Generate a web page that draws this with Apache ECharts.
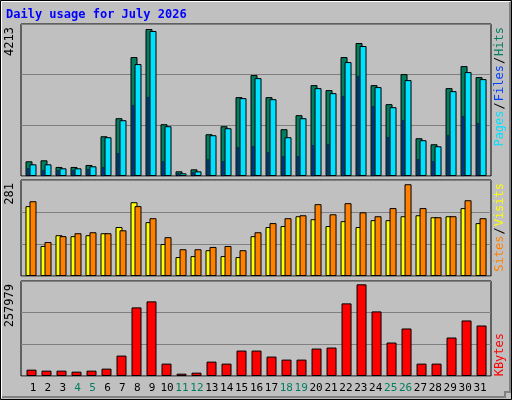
<!DOCTYPE html>
<html><head><meta charset="utf-8">
<script src="https://cdn.jsdelivr.net/npm/echarts@6/dist/echarts.min.js"></script>
<style>html,body{margin:0;padding:0;background:#c0c0c0}#c{width:512px;height:400px}</style>
</head><body><div id="c"></div>
<script>
const days = Array.from({length:31},(_,i)=>String(i+1));
const weekendDays = ['4','5','11','12','18','19','25','26'];
const hits  = [421,450,259,259,316,1139,1656,3409,4213,1484,134,191,1197,1427,2260,2892,2260,1341,1743,2604,2461,3409,3811,2604,2059,2920,1082,910,2518,3150,2834];
const files = [335,335,220,220,278,1111,1599,3208,4156,1427,77,134,1168,1369,2231,2805,2202,1111,1656,2518,2375,3265,3725,2547,1972,2748,1025,852,2432,2978,2777];
const pages = [220,163,163,163,191,249,651,2030,2260,421,77,105,479,421,823,852,680,565,565,881,910,2288,2863,2001,1111,1599,479,421,1168,1714,1513];
const sites = [214,92,125,122,125,131,150,226,165,98,58,61,79,61,58,122,150,153,183,174,153,168,150,171,171,183,186,180,183,208,162];
const visits= [229,104,122,131,134,131,140,214,177,119,82,82,89,92,79,134,162,177,186,220,189,223,195,183,208,281,208,180,183,232,177];
const kbytes= [17889,15064,15064,12240,15064,20713,57432,193008,209955,34836,6591,9415,40485,34836,71555,71555,54607,46134,46134,77204,80028,204306,257979,181710,94150,133693,34836,34836,108273,156289,142167];
const maxLabels = ['4213','281','257979'];

const panels=[{top:24,h:152,max:4356},{top:180,h:96,max:294},{top:281,h:95,max:267300}];
const grids=panels.map(p=>({left:21,width:470,top:p.top,height:p.h,show:true,borderColor:'#000',borderWidth:1,backgroundColor:'#c0c0c0'}));
grids.push({left:25.5,width:462,top:378,height:1,show:false});
const xAxes=[];const yAxes=[];const series=[];
function xa(grid,shift){xAxes.push({type:'value',gridIndex:grid,min:0.3+shift,max:31.63+shift,show:false,splitLine:{show:false}});return xAxes.length-1;}
panels.forEach((p,i)=>yAxes.push({type:'value',gridIndex:i,min:0,max:p.max,interval:p.max/3,axisLine:{show:false},axisTick:{show:false},axisLabel:{show:false},splitLine:{lineStyle:{color:'#808080',width:1}}}));
yAxes.push({type:'value',gridIndex:3,show:false});
function bar(data,grid,shift,color,w,border){
  series.push({type:'bar',xAxisIndex:xa(grid,shift),yAxisIndex:grid,barWidth:w,data:data.map((v,i)=>[i+1,v]),
    itemStyle:{color:color,borderColor:'#000',borderWidth:border},silent:true,animation:false});
}
bar(hits,0,0.1667,'#008060',7,1);
bar(files,0,-0.1,'#00e0ff',7,1);
bar(pages,0,0.233,'#0040ff',2,0.5);
bar(sites,1,0.1667,'#ffff00',7,1);
bar(visits,1,-0.1,'#ff8000',7,1);
bar(kbytes,2,0,'#ff0000',10,1);
xAxes.push({type:'category',gridIndex:3,data:days,axisLine:{show:false},axisTick:{show:false},
  axisLabel:{interval:0,margin:4,fontFamily:'DejaVu Sans Mono',fontSize:11,
   color:(v)=>weekendDays.includes(v)?'#008060':'#000'}});
series.push({type:'bar',xAxisIndex:xAxes.length-1,yAxisIndex:3,data:[],silent:true});

const rot=Math.PI/2, mono='DejaVu Sans Mono';
const g=[
 {type:'rect',shape:{x:0.5,y:0.5,width:511,height:399},style:{fill:'none',stroke:'#000'}},
 {type:'polyline',shape:{points:[[1.5,398],[1.5,1.5],[510,1.5]]},style:{stroke:'#fff',fill:'none'}},
 {type:'polyline',shape:{points:[[2,397],[505,397],[505,392],[510,392],[510,2]]},style:{stroke:'#808080',fill:'none',lineWidth:2}},
 {type:'text',x:6,y:9,style:{text:'Daily usage for July 2026',font:'bold 12px '+mono,fill:'#0000ff'}},
 {type:'text',x:10,y:27,rotation:rot,style:{text:maxLabels[0],font:'12px '+mono,fill:'#000',align:'right',verticalAlign:'middle'}},
 {type:'text',x:10,y:183,rotation:rot,style:{text:maxLabels[1],font:'12px '+mono,fill:'#000',align:'right',verticalAlign:'middle'}},
 {type:'text',x:10,y:284,rotation:rot,style:{text:maxLabels[2],font:'12px '+mono,fill:'#000',align:'right',verticalAlign:'middle'}},
 {type:'text',x:500,y:27,rotation:rot,style:{text:'{p|Pages}{s|/}{f|Files}{s|/}{h|Hits}',font:'12px '+mono,align:'right',verticalAlign:'middle',
   rich:{p:{fill:'#00e0ff',font:'12px '+mono},s:{fill:'#000',font:'12px '+mono,padding:[0,1]},f:{fill:'#0040ff',font:'12px '+mono},h:{fill:'#008060',font:'12px '+mono}}}},
 {type:'text',x:500,y:183,rotation:rot,style:{text:'{a|Sites}{s|/}{b|Visits}',font:'12px '+mono,align:'right',verticalAlign:'middle',
   rich:{a:{fill:'#ff8000',font:'12px '+mono},s:{fill:'#000',font:'12px '+mono,padding:[0,1]},b:{fill:'#ffff00',font:'12px '+mono}}}},
 {type:'text',x:500,y:333,rotation:rot,style:{text:'KBytes',font:'12px '+mono,fill:'#ff0000',align:'right',verticalAlign:'middle'}}
];
const chart=echarts.init(document.getElementById('c'));
chart.setOption({backgroundColor:'#c0c0c0',animation:false,grid:grids,xAxis:xAxes,yAxis:yAxes,series:series,graphic:g});
</script></body></html>
